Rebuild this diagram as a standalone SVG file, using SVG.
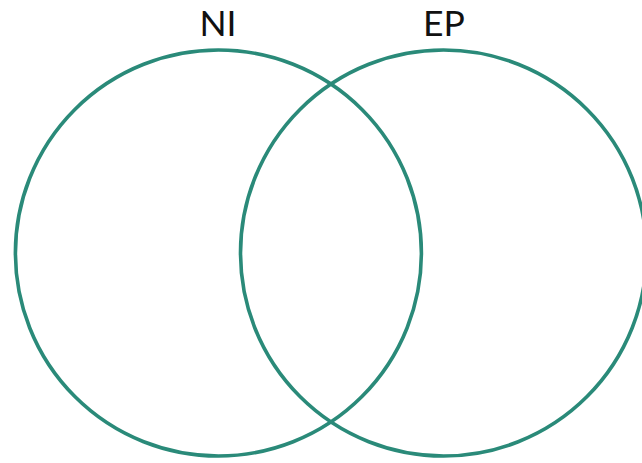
<svg xmlns="http://www.w3.org/2000/svg" width="642" height="463" viewBox="0 0 642 463">
<style>
.c{fill:none;stroke:#2a8a79;stroke-width:3.6}
.t{font-family:Lato,"Noto Sans",sans-serif;font-size:35.5px;fill:#111;text-anchor:middle}
</style>
<rect width="642" height="463" fill="#fff"/>
<g id="NI">
<circle class="c" cx="218.4" cy="253" r="203"/>
<text class="t" x="218" y="36">NI</text>
</g>
<g id="EP">
<circle class="c" cx="443.5" cy="253" r="203"/>
<text class="t" x="444" y="36">EP</text>
</g>
<g id="connectors"></g>
</svg>
